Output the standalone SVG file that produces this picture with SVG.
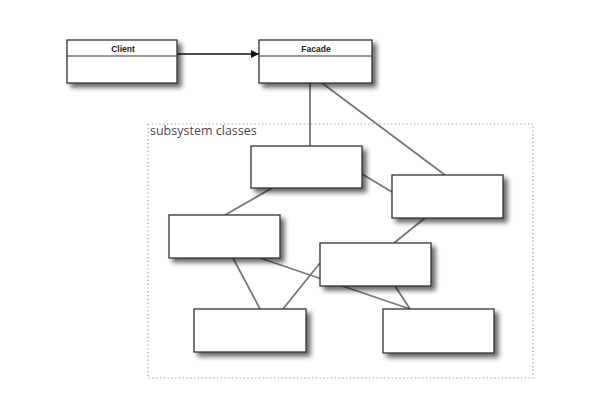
<svg xmlns="http://www.w3.org/2000/svg" width="607" height="397" viewBox="0 0 607 397">
<defs>
<filter id="sh" x="-20%" y="-30%" width="150%" height="180%" color-interpolation-filters="sRGB">
<feGaussianBlur in="SourceAlpha" stdDeviation="2.5" result="b"/>
<feOffset in="b" dx="4" dy="4" result="o"/>
<feComponentTransfer in="o" result="s"><feFuncA type="linear" slope="0.6"/></feComponentTransfer>
<feMerge><feMergeNode in="s"/><feMergeNode in="SourceGraphic"/></feMerge>
</filter>
<marker id="arr" viewBox="0 0 10 10" refX="10" refY="5" markerWidth="9" markerHeight="8" markerUnits="userSpaceOnUse" orient="auto">
<path d="M0,0 L10,5 L0,10 z" fill="#111"/>
</marker>
<style>
.box{fill:#fff;stroke:#333;stroke-width:1.3;filter:url(#sh)}
.div{stroke:#333;stroke-width:1.1}
.ln{stroke:#777;stroke-width:1.8;fill:none}
.cn{font-family:"Liberation Sans",Arial,sans-serif;font-weight:bold;font-size:8.5px;fill:#222;text-anchor:middle}
.lbl{font-family:"Open Sans","Noto Sans",sans-serif;font-size:12.5px;fill:#4f4556}
</style>
</defs>
<rect width="607" height="397" fill="#fff"/>
<g id="subsystem">
<rect x="148" y="124" width="385" height="254" fill="none" stroke="#999" stroke-width="1.2" stroke-dasharray="1.2,2.6"/>
<text class="lbl" x="150" y="135">subsystem classes</text>
</g>
<g id="connectors">
<path d="M177,54 L259,54" stroke="#111" stroke-width="1.6" marker-end="url(#arr)"/>
<path class="ln" d="M310,83 L310,146"/>
<path class="ln" d="M322,83 L445,175"/>
<path class="ln" d="M362,174 L392,192"/>
<path class="ln" d="M272,188 L225,215"/>
<path class="ln" d="M425,218 L394,243"/>
<path class="ln" d="M233,258 L260,309"/>
<path class="ln" d="M260,258 L410,309"/>
<path class="ln" d="M320,263 L283,309"/>
<path class="ln" d="M395,286 L410,309"/>
</g>
<g id="client">
<rect class="box" x="67" y="40" width="110" height="43"/>
<line class="div" x1="67" y1="56" x2="177" y2="56"/>
<text class="cn" x="123" y="52">Client</text>
</g>
<g id="facade">
<rect class="box" x="259" y="40" width="113" height="43"/>
<line class="div" x1="259" y1="56" x2="372" y2="56"/>
<text class="cn" x="316" y="52">Facade</text>
</g>
<g id="classA"><rect class="box" x="251" y="146" width="111" height="42"/></g>
<g id="classB"><rect class="box" x="392" y="175" width="111" height="43"/></g>
<g id="classC"><rect class="box" x="169" y="215" width="111" height="43"/></g>
<g id="classD"><rect class="box" x="320" y="243" width="111" height="43"/></g>
<g id="classE"><rect class="box" x="194" y="309" width="112" height="43"/></g>
<g id="classF"><rect class="box" x="383" y="309" width="111" height="44"/></g>
</svg>
